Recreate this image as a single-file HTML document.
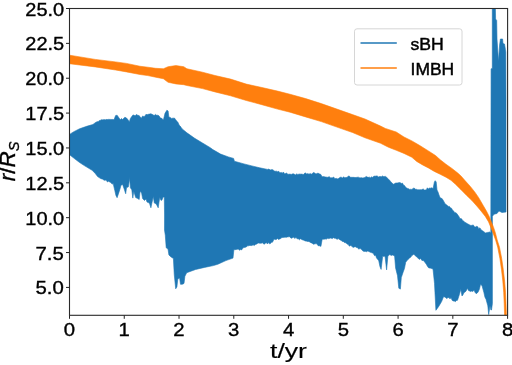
<!DOCTYPE html>
<html><head><meta charset="utf-8"><style>
html,body{margin:0;padding:0;background:#fff;}
body{width:512px;height:365px;overflow:hidden;font-family:"Liberation Sans", sans-serif;}
svg{display:block;will-change:transform;}
</style></head><body>
<svg width="512" height="365" viewBox="0 0 512 365" font-family='"Liberation Sans", sans-serif' fill="#000">
<style>text{stroke:#000;stroke-width:0.35px;}</style>
<rect width="512" height="365" fill="#fff"/>
<polygon points="69.60,134.40 73.40,131.90 79.60,128.75 87.40,126.10 92.90,124.50 96.00,122.20 97.20,121.63 98.40,121.40 99.90,120.30 100.90,120.18 101.90,119.46 102.90,120.05 103.90,119.51 104.90,119.68 105.90,119.80 106.90,119.32 107.90,119.64 108.90,119.26 109.90,119.47 110.90,119.40 111.93,119.52 112.97,119.38 114.00,119.80 115.60,115.60 117.10,115.20 118.70,117.50 120.25,119.80 121.42,118.56 122.60,119.50 123.75,118.33 124.90,117.20 126.50,118.00 128.00,119.80 129.30,121.90 130.40,118.50 131.57,116.77 132.75,115.20 133.93,114.97 135.10,116.00 136.40,114.43 137.70,115.20 139.00,115.60 140.15,116.70 141.30,118.30 142.65,115.98 144.00,116.70 145.00,116.06 146.00,114.25 147.00,114.80 148.30,114.32 149.60,114.07 150.90,113.75 151.97,114.34 153.03,114.83 154.10,115.60 155.40,114.40 156.70,115.28 158.00,115.20 159.15,116.06 160.30,118.00 161.33,118.01 162.37,119.11 163.40,120.00 165.00,113.30 166.90,110.20 168.10,111.00 168.90,117.20 170.07,117.32 171.25,118.40 172.30,118.26 173.35,118.13 174.40,118.00 175.55,119.48 176.70,121.10 177.90,122.31 179.10,125.00 180.13,126.01 181.17,127.44 182.20,128.90 186.90,132.80 194.70,138.30 202.50,143.00 210.30,147.70 212.80,149.60 220.60,154.10 228.40,156.90 233.60,158.40 234.40,161.25 244.00,163.90 251.90,165.90 259.70,167.80 267.50,169.40 268.61,169.12 269.73,169.60 270.84,170.05 271.96,169.45 273.07,169.94 274.19,170.89 275.30,171.25 276.48,171.16 277.65,171.68 278.82,171.34 280.00,173.00 281.11,172.32 282.23,173.21 283.34,171.98 284.46,173.66 285.57,173.58 286.69,173.11 287.80,174.20 288.91,174.28 290.03,174.05 291.14,174.54 292.26,173.94 293.37,173.84 294.49,174.36 295.60,175.00 296.71,173.70 297.83,174.70 298.94,174.01 300.06,174.15 301.17,174.10 302.29,174.24 303.40,174.50 304.52,173.33 305.64,172.99 306.76,174.01 307.89,173.62 309.01,174.28 310.13,173.46 311.25,174.20 312.37,173.47 313.49,172.49 314.61,172.93 315.74,173.81 316.86,173.64 317.98,173.10 319.10,173.75 320.90,174.50 321.90,176.60 322.90,176.72 323.90,176.50 324.90,176.91 325.90,177.06 326.90,177.20 328.01,177.37 329.13,176.60 330.24,177.69 331.36,177.79 332.47,177.81 333.59,177.01 334.70,178.40 335.73,178.56 336.77,178.41 337.80,178.90 338.98,178.22 340.15,177.25 341.32,177.23 342.50,178.10 343.61,176.79 344.73,177.75 345.84,177.48 346.96,177.44 348.07,176.28 349.19,175.95 350.30,177.30 351.48,177.31 352.65,177.35 353.82,177.36 355.00,177.50 356.11,177.48 357.23,177.27 358.34,177.16 359.46,177.68 360.57,177.86 361.69,177.65 362.80,178.00 363.91,177.74 365.03,177.40 366.14,176.42 367.26,177.07 368.37,177.36 369.49,177.13 370.60,177.70 371.71,176.85 372.83,177.47 373.94,176.06 375.06,176.27 376.17,175.90 377.29,176.00 378.40,176.90 379.41,176.58 380.43,176.50 381.44,176.67 382.46,175.97 383.47,176.54 384.49,176.46 385.50,176.40 386.65,177.33 387.80,178.40 388.83,179.52 389.87,180.55 390.90,181.90 392.10,183.05 393.30,184.20 394.45,183.65 395.60,183.10 396.78,182.96 397.95,182.88 399.12,182.59 400.30,182.70 401.33,183.47 402.37,183.01 403.40,185.00 404.47,185.43 405.53,187.03 406.60,188.10 407.63,188.43 408.67,188.77 409.70,189.40 410.81,189.23 411.93,189.46 413.04,188.38 414.16,187.99 415.27,189.27 416.39,189.28 417.50,189.70 418.61,189.73 419.73,189.77 420.84,189.64 421.96,189.76 423.07,188.82 424.19,189.92 425.30,190.00 426.33,189.63 427.37,187.82 428.40,188.90 429.47,188.09 430.53,188.13 431.60,187.80 433.10,188.50 434.40,181.90 435.20,180.70 436.20,182.00 437.00,190.00 438.00,192.03 439.00,195.00 440.00,197.50 441.00,198.30 442.00,198.47 443.00,200.06 444.00,201.72 445.00,203.75 446.07,204.53 447.14,205.32 448.21,206.38 449.29,206.37 450.36,207.76 451.43,208.14 452.50,210.00 453.57,211.08 454.64,212.42 455.71,212.70 456.79,213.45 457.86,215.09 458.93,216.46 460.00,218.75 461.00,218.43 462.00,219.37 463.00,220.92 464.00,221.32 465.00,222.50 466.00,222.84 467.00,223.58 468.00,224.12 469.00,224.54 470.00,225.20 471.10,225.49 472.20,225.23 473.30,224.94 474.40,226.80 475.50,226.95 476.60,226.35 477.70,226.66 478.80,228.70 479.90,227.87 481.00,229.74 482.10,230.50 483.20,231.20 484.25,231.97 485.30,232.90 486.40,232.64 487.50,232.43 488.60,232.30 489.70,231.98 490.80,232.90 490.80,232.00 491.10,68.80 492.30,68.50 492.30,8.50 495.40,8.50 495.60,19.00 496.70,20.50 497.00,39.00 498.50,61.50 499.60,45.00 500.40,39.00 502.60,39.00 503.00,43.50 504.50,44.00 505.40,49.30 505.80,52.00 506.00,100.00 506.00,212.00 502.00,212.50 499.00,211.00 497.00,213.50 494.00,214.20 492.40,216.40 492.40,303.60 491.50,310.00 490.90,310.00 490.00,305.80 488.70,314.60 487.80,305.80 486.00,299.20 484.95,297.20 483.90,292.60 482.10,286.00 480.60,283.90 479.50,288.83 478.40,291.50 477.30,292.97 476.20,293.70 475.10,292.53 474.00,290.00 472.90,291.52 471.80,291.01 470.70,291.50 469.60,291.10 468.50,290.62 467.40,288.20 466.27,290.65 465.13,292.03 464.00,292.60 463.00,294.67 462.00,296.00 460.80,289.30 459.30,294.80 457.50,300.30 456.43,300.53 455.35,301.65 454.27,301.00 453.20,301.00 452.10,300.28 451.00,297.50 450.00,298.93 449.00,297.58 448.00,297.51 447.00,298.60 446.00,297.92 445.00,297.00 443.50,296.80 441.60,301.60 440.15,304.05 438.70,306.40 437.30,308.38 435.90,310.30 434.50,283.40 433.00,269.00 431.55,268.54 430.10,268.00 428.83,268.04 427.57,266.51 426.30,264.20 424.85,262.33 423.40,260.40 421.95,260.49 420.50,258.40 419.23,259.44 417.97,258.09 416.70,256.90 415.25,255.75 413.80,254.20 411.90,255.60 410.60,257.35 409.30,258.16 408.00,259.40 406.85,260.85 405.70,262.30 404.45,268.61 403.20,271.90 401.30,277.60 400.40,289.10 398.80,288.20 397.50,275.70 395.60,268.00 394.60,256.00 392.70,255.00 391.25,255.48 389.80,254.60 387.90,256.00 386.60,269.90 385.00,256.00 383.85,256.49 382.70,256.10 381.10,269.40 379.93,266.49 378.75,260.80 377.70,259.27 376.65,258.35 375.60,255.30 374.57,255.63 373.53,253.84 372.50,253.00 371.32,252.60 370.15,252.14 368.98,251.59 367.80,251.00 366.50,251.68 365.20,251.37 363.90,251.40 362.60,250.65 361.30,249.36 360.00,248.30 358.82,249.24 357.65,247.73 356.48,247.47 355.30,246.75 354.12,246.98 352.95,247.43 351.78,246.10 350.60,245.50 349.43,246.17 348.25,244.55 347.07,243.93 345.90,242.80 344.74,242.66 343.57,241.65 342.41,241.38 341.25,240.50 340.20,239.92 339.15,239.23 338.10,238.60 336.93,239.40 335.75,238.20 334.57,238.28 333.40,237.70 332.37,238.62 331.33,238.36 330.30,238.12 329.27,238.46 328.23,238.61 327.20,238.20 326.20,239.39 325.20,238.64 324.20,239.33 323.20,239.14 322.20,239.25 320.90,246.40 319.74,245.82 318.57,245.95 317.41,244.71 316.25,243.60 315.21,243.85 314.17,244.02 313.12,244.18 312.08,242.91 311.04,242.95 310.00,242.10 308.40,241.40 307.29,241.43 306.17,241.06 305.06,241.03 303.94,240.21 302.83,239.96 301.71,239.49 300.60,238.75 299.43,239.78 298.25,238.76 297.07,238.82 295.90,237.20 294.87,238.54 293.83,237.14 292.80,237.45 291.77,238.29 290.73,237.91 289.70,236.70 288.59,236.84 287.47,236.95 286.36,237.36 285.24,237.17 284.13,237.36 283.01,237.39 281.90,237.50 280.79,238.45 279.67,238.94 278.56,239.47 277.44,238.45 276.33,239.46 275.21,239.57 274.10,239.10 272.50,242.20 271.49,242.29 270.49,243.56 269.48,243.87 268.47,242.51 267.46,243.94 266.46,242.80 265.45,242.98 264.44,244.22 263.44,243.82 262.43,242.81 261.42,243.13 260.41,243.31 259.41,243.13 258.40,243.00 257.37,243.56 256.33,244.16 255.30,244.50 254.19,245.52 253.07,244.87 251.96,245.55 250.84,245.55 249.73,245.43 248.61,245.79 247.50,245.80 246.32,247.00 245.15,247.37 243.98,247.53 242.80,248.10 241.69,249.88 240.57,249.55 239.46,250.30 238.34,249.03 237.23,249.36 236.11,249.47 235.00,249.70 233.90,249.60 233.00,258.10 225.90,260.60 217.90,264.20 213.40,265.60 204.50,267.40 195.60,269.50 186.70,272.70 184.90,276.30 184.00,283.40 182.30,284.30 180.50,284.30 179.60,278.00 177.80,279.00 176.90,287.00 175.70,288.80 174.25,274.50 173.40,258.50 170.70,256.70 168.90,254.90 168.00,249.00 166.20,247.80 165.30,235.30 164.50,230.00 164.55,215.00 164.30,197.10 163.10,197.10 162.10,199.77 161.10,200.50 159.70,197.60 158.20,207.80 156.25,204.00 154.30,203.00 153.30,196.60 151.90,203.00 150.90,207.80 149.40,203.00 148.20,202.62 147.00,202.00 146.00,199.00 144.50,200.50 142.60,198.60 141.60,193.00 140.10,191.20 139.20,199.50 137.70,198.50 136.70,198.08 135.70,197.60 134.80,194.70 133.80,191.20 132.80,198.10 131.80,189.80 130.40,187.80 129.60,177.30 129.40,180.00 128.40,186.80 126.50,187.80 125.70,193.75 124.20,189.00 122.60,184.40 121.00,185.20 119.85,189.39 118.70,193.00 117.10,197.70 115.95,195.48 114.80,190.60 113.20,183.60 112.05,184.12 110.90,182.50 109.73,181.98 108.55,181.29 107.38,181.98 106.20,180.00 105.10,180.24 104.00,180.22 102.90,179.17 101.80,178.89 100.70,178.60 97.60,176.60 95.25,173.40 92.10,170.30 84.30,165.60 79.60,162.50 73.40,157.80 69.60,154.70" fill="#1f77b4" stroke="#1f77b4" stroke-width="0.6" stroke-linejoin="round"/>
<polygon points="69.60,55.20 95.25,59.40 115.60,61.90 126.50,63.40 140.00,66.25 147.80,67.20 155.60,68.30 163.40,68.75 168.10,66.70 175.90,65.60 183.75,66.70 186.90,68.75 202.50,72.20 215.00,75.50 230.60,79.10 246.25,84.10 261.90,87.50 277.50,91.10 290.00,94.25 305.60,98.60 321.25,103.60 336.90,109.10 352.50,114.60 365.00,119.00 380.60,126.10 385.30,128.40 396.25,132.00 404.00,137.00 411.90,140.90 419.40,145.30 428.40,150.90 435.50,155.50 440.20,159.70 446.00,164.30 451.90,168.40 457.80,173.10 461.00,176.00 465.40,181.00 470.30,186.40 474.70,191.90 478.50,197.40 483.20,205.50 486.40,211.00 489.20,216.40 491.40,221.90 493.60,227.40 495.40,232.90 497.20,240.00 499.50,247.20 501.70,258.50 503.30,269.70 504.60,281.00 505.50,292.20 506.00,303.40 506.40,315.10 504.60,315.10 504.20,303.40 503.70,292.20 502.80,281.00 501.50,269.70 499.90,258.50 497.70,247.20 495.60,240.00 493.00,232.90 490.80,227.40 488.60,221.90 485.30,216.40 481.00,211.00 476.80,206.00 471.90,200.50 466.40,195.20 461.00,189.70 455.50,184.30 451.00,180.30 446.00,177.20 440.20,174.30 434.30,171.40 428.40,167.90 422.60,164.90 416.70,161.40 411.90,157.30 404.00,153.40 396.25,150.30 388.40,147.20 380.60,143.25 365.00,137.80 352.50,132.50 336.90,127.10 321.25,121.60 305.60,116.90 290.00,112.20 277.50,109.10 261.90,104.70 246.25,100.50 230.60,95.80 215.00,91.90 202.50,88.60 186.90,85.50 183.75,84.70 175.90,83.90 168.10,82.30 163.40,78.75 155.60,77.20 147.80,75.60 140.00,74.50 126.50,71.90 115.60,70.00 95.25,66.90 69.60,63.75" fill="#ff7f0e" stroke="#ff7f0e" stroke-width="0.6" stroke-linejoin="round"/>
<rect x="69.50" y="8.50" width="438.10" height="306.80" fill="none" stroke="#2a2a2a" stroke-width="1.1"/>
<line x1="66.00" y1="8.50" x2="69.50" y2="8.50" stroke="#222" stroke-width="1.0"/>
<text x="64.2" y="15.50" text-anchor="end" font-size="18" textLength="38.9" lengthAdjust="spacingAndGlyphs">25.0</text>
<line x1="66.00" y1="43.36" x2="69.50" y2="43.36" stroke="#222" stroke-width="1.0"/>
<text x="64.2" y="50.36" text-anchor="end" font-size="18" textLength="38.9" lengthAdjust="spacingAndGlyphs">22.5</text>
<line x1="66.00" y1="78.23" x2="69.50" y2="78.23" stroke="#222" stroke-width="1.0"/>
<text x="64.2" y="85.23" text-anchor="end" font-size="18" textLength="38.9" lengthAdjust="spacingAndGlyphs">20.0</text>
<line x1="66.00" y1="113.09" x2="69.50" y2="113.09" stroke="#222" stroke-width="1.0"/>
<text x="64.2" y="120.09" text-anchor="end" font-size="18" textLength="38.9" lengthAdjust="spacingAndGlyphs">17.5</text>
<line x1="66.00" y1="147.95" x2="69.50" y2="147.95" stroke="#222" stroke-width="1.0"/>
<text x="64.2" y="154.95" text-anchor="end" font-size="18" textLength="38.9" lengthAdjust="spacingAndGlyphs">15.0</text>
<line x1="66.00" y1="182.82" x2="69.50" y2="182.82" stroke="#222" stroke-width="1.0"/>
<text x="64.2" y="189.82" text-anchor="end" font-size="18" textLength="38.9" lengthAdjust="spacingAndGlyphs">12.5</text>
<line x1="66.00" y1="217.68" x2="69.50" y2="217.68" stroke="#222" stroke-width="1.0"/>
<text x="64.2" y="224.68" text-anchor="end" font-size="18" textLength="38.9" lengthAdjust="spacingAndGlyphs">10.0</text>
<line x1="66.00" y1="252.55" x2="69.50" y2="252.55" stroke="#222" stroke-width="1.0"/>
<text x="63.8" y="259.55" text-anchor="end" font-size="18" textLength="28.3" lengthAdjust="spacingAndGlyphs">7.5</text>
<line x1="66.00" y1="287.41" x2="69.50" y2="287.41" stroke="#222" stroke-width="1.0"/>
<text x="63.8" y="294.41" text-anchor="end" font-size="18" textLength="28.3" lengthAdjust="spacingAndGlyphs">5.0</text>
<line x1="69.50" y1="315.30" x2="69.50" y2="318.80" stroke="#222" stroke-width="1.0"/>
<text x="69.50" y="335.60" text-anchor="middle" font-size="18" textLength="11.3" lengthAdjust="spacingAndGlyphs">0</text>
<line x1="124.26" y1="315.30" x2="124.26" y2="318.80" stroke="#222" stroke-width="1.0"/>
<text x="124.26" y="335.60" text-anchor="middle" font-size="18" textLength="11.3" lengthAdjust="spacingAndGlyphs">1</text>
<line x1="179.03" y1="315.30" x2="179.03" y2="318.80" stroke="#222" stroke-width="1.0"/>
<text x="179.03" y="335.60" text-anchor="middle" font-size="18" textLength="11.3" lengthAdjust="spacingAndGlyphs">2</text>
<line x1="233.79" y1="315.30" x2="233.79" y2="318.80" stroke="#222" stroke-width="1.0"/>
<text x="233.79" y="335.60" text-anchor="middle" font-size="18" textLength="11.3" lengthAdjust="spacingAndGlyphs">3</text>
<line x1="288.55" y1="315.30" x2="288.55" y2="318.80" stroke="#222" stroke-width="1.0"/>
<text x="288.55" y="335.60" text-anchor="middle" font-size="18" textLength="11.3" lengthAdjust="spacingAndGlyphs">4</text>
<line x1="343.31" y1="315.30" x2="343.31" y2="318.80" stroke="#222" stroke-width="1.0"/>
<text x="343.31" y="335.60" text-anchor="middle" font-size="18" textLength="11.3" lengthAdjust="spacingAndGlyphs">5</text>
<line x1="398.08" y1="315.30" x2="398.08" y2="318.80" stroke="#222" stroke-width="1.0"/>
<text x="398.08" y="335.60" text-anchor="middle" font-size="18" textLength="11.3" lengthAdjust="spacingAndGlyphs">6</text>
<line x1="452.84" y1="315.30" x2="452.84" y2="318.80" stroke="#222" stroke-width="1.0"/>
<text x="452.84" y="335.60" text-anchor="middle" font-size="18" textLength="11.3" lengthAdjust="spacingAndGlyphs">7</text>
<line x1="507.60" y1="315.30" x2="507.60" y2="318.80" stroke="#222" stroke-width="1.0"/>
<text x="507.60" y="335.60" text-anchor="middle" font-size="18" textLength="11.3" lengthAdjust="spacingAndGlyphs">8</text>
<rect x="354.5" y="28.8" width="107.5" height="56.2" rx="2.5" fill="#fff" fill-opacity="0.8" stroke="#ccc" stroke-width="0.8"/>
<line x1="360.5" y1="43" x2="396.8" y2="43" stroke="#1f77b4" stroke-width="1.5"/>
<line x1="360.5" y1="68" x2="396.8" y2="68" stroke="#ff7f0e" stroke-width="1.5"/>
<text x="410.5" y="49.9" font-size="17.2" textLength="33.3" lengthAdjust="spacingAndGlyphs" style="stroke-width:0.45px">sBH</text>
<text x="410.6" y="74.5" font-size="17.2" textLength="43.6" lengthAdjust="spacingAndGlyphs" style="stroke-width:0.45px">IMBH</text>
<text x="270" y="357.7" font-size="21" textLength="37" lengthAdjust="spacingAndGlyphs" style="stroke-width:0.15px">t/yr</text>
<g transform="translate(15.3,161.4) rotate(-90)">
<text x="0" y="0" text-anchor="middle" font-size="21.5" textLength="39.6" lengthAdjust="spacingAndGlyphs"><tspan font-style="italic">r</tspan>/<tspan font-style="italic">R</tspan><tspan font-style="italic" font-size="14" dy="4">S</tspan></text>
</g>
</svg>
</body></html>
